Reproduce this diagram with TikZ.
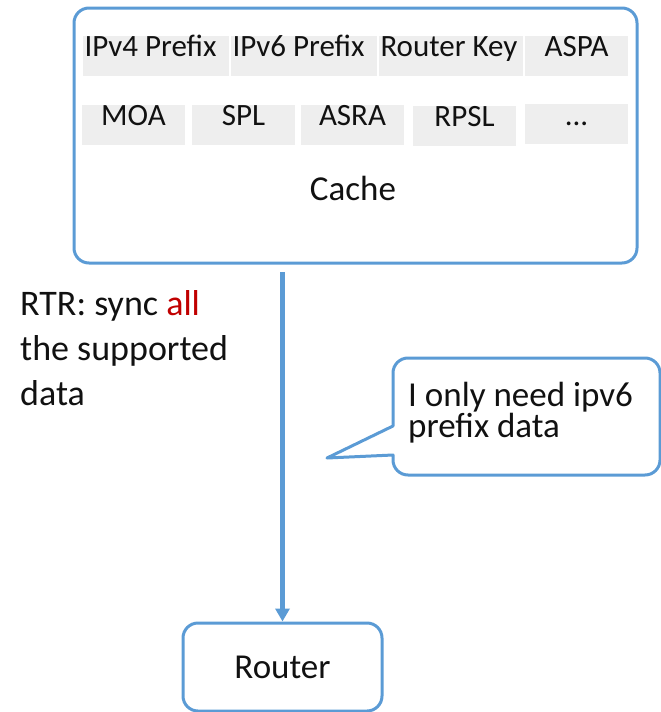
\documentclass[tikz,border=0pt]{standalone}
\usepackage{fontspec}
\setmainfont{Carlito}
\usetikzlibrary{arrows.meta}
\definecolor{cblue}{HTML}{5B9BD5}
\definecolor{cgray}{HTML}{EEEEEE}
\definecolor{cred}{HTML}{C00000}
\definecolor{ctext}{HTML}{111111}
\tikzset{
  box/.style={draw=cblue, line width=3pt, rounded corners=15pt, inner sep=0pt},
  cell/.style={fill=cgray, inner sep=0pt, minimum height=40pt},
  celltxt/.style={inner sep=0pt, text=ctext, font=\fontsize{31}{36}\selectfont},
  bigtxt/.style={inner sep=0pt, text=ctext, font=\fontsize{35}{40}\selectfont},
  arr/.style={draw=cblue, line width=4.5pt, -{Triangle[width=14pt,length=13pt]}},
}
\begin{document}
\begin{tikzpicture}[x=1pt,y=-1pt]
\useasboundingbox (0,0) rectangle (661,712);
% cache box
\node[box, minimum width=563pt, minimum height=255pt] (cache) at (355.5,135.5) {};
% cells row 1
\node[cell, minimum width=146pt] (c1) at (156,56) {};
\node[cell, minimum width=146pt] (c2) at (304,56) {};
\node[cell, minimum width=144pt] (c3) at (451,56) {};
\node[cell, minimum width=103pt] (c4) at (576.5,56) {};
% cells row 2
\node[cell, minimum width=103pt] (c5) at (133.5,125) {};
\node[cell, minimum width=103pt] (c6) at (243.5,125) {};
\node[cell, minimum width=103pt] (c7) at (352.5,125) {};
\node[cell, minimum width=103pt] (c8) at (464.5,126) {};
\node[cell, minimum width=103pt] (c9) at (576.5,124) {};
% cell texts
\node[celltxt, anchor=base west] (t1) at ([xshift=1.5pt,yshift=-21pt]c1.north west) {IPv4 Prefix};
\node[celltxt, anchor=base west] (t2) at ([xshift=1.5pt,yshift=-21pt]c2.north west) {IPv6 Prefix};
\node[celltxt, anchor=base west] (t3) at ([xshift=1.5pt,yshift=-21pt]c3.north west) {Router Key};
\node[celltxt, anchor=base] (t4) at ([yshift=-21pt]c4.north) {ASPA};
\node[celltxt, anchor=base] (t5) at ([yshift=-21pt]c5.north) {MOA};
\node[celltxt, anchor=base] (t6) at ([yshift=-21pt]c6.north) {SPL};
\node[celltxt, anchor=base] (t7) at ([yshift=-21pt]c7.north) {ASRA};
\node[celltxt, anchor=base] (t8) at ([yshift=-21pt]c8.north) {RPSL};
\node[celltxt, anchor=base] (t9) at ([yshift=-22pt]c9.north) {...};
\node[bigtxt, anchor=base] (cachelbl) at (353,200) {Cache};
% router
\node[box, bigtxt, minimum width=199pt, minimum height=88pt] (router) at (282.5,667) {Router};
% arrow
\coordinate (s) at (282.5,272);
\draw[arr] (s) -- (s |- router.north);
% RTR text
\node[inner sep=0pt, anchor=base west, align=left, text=ctext, font=\fontsize{36}{45}\selectfont] (rtr) at (20,405) {RTR: sync \textcolor{cred}{all}\\the supported\\data};
% speech bubble
\coordinate (tip) at (327,458);
\draw[draw=cblue, line width=3pt, line join=round] (393,426) [rounded corners=15pt] -- (393,358) -- (660,358) -- (660,475) -- (393,475) [sharp corners] -- (393,455) -- (tip) -- cycle;
\node[inner sep=0pt, anchor=base west, align=left, text=ctext, font=\fontsize{35}{29}\selectfont] (bub) at (408,437) {I only need ipv6\\prefix data};
\end{tikzpicture}
\end{document}
